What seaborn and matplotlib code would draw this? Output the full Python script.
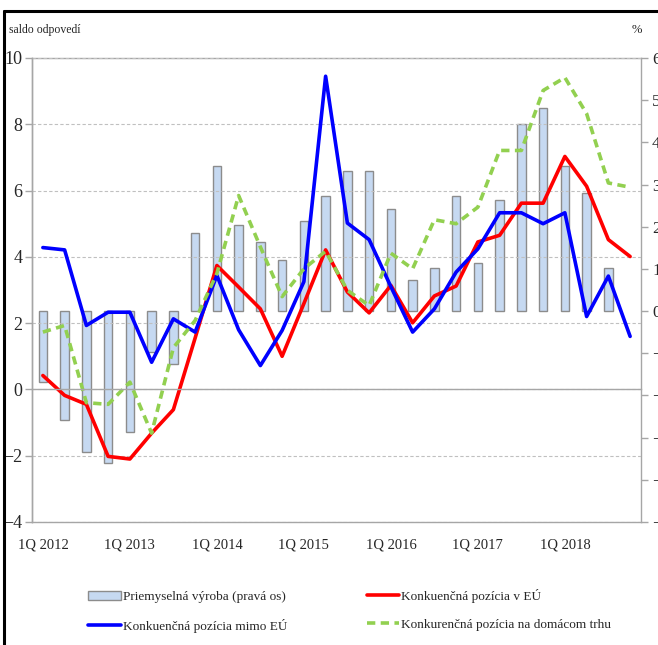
import numpy as np
import pandas as pd
import matplotlib
matplotlib.use("Agg")
import matplotlib.pyplot as plt
from matplotlib.patches import Patch
from matplotlib.lines import Line2D
import seaborn as sns

# ---------------- data ----------------
quarter_idx = list(range(28))  # 1Q 2012 ... 4Q 2018
tick_pos = [0, 4, 8, 12, 16, 20, 24]
tick_labels = ["1Q 2012", "1Q 2013", "1Q 2014", "1Q 2015", "1Q 2016", "1Q 2017", "1Q 2018"]

# Priemyselná výroba (right axis, %)
industry = [-1.68, -2.58, -3.34, -3.6, -2.86, -0.96, -1.26, 1.84, 3.44, 2.04,
            1.63, 1.22, 2.13, 2.73, 3.32, 3.32, 2.43, 0.73, 1.02, 2.73,
            1.13, 2.63, 4.43, 4.82, 3.44, 2.81, 1.02, np.nan]
# Konkurenčná pozícia v EÚ (left axis)
pos_eu = [0.42, -0.18, -0.45, -2.02, -2.1, -1.32, -0.61, 1.55, 3.74, 3.09,
          2.43, 1.0, 2.59, 4.21, 2.94, 2.31, 3.14, 2.01, 2.82, 3.12,
          4.45, 4.65, 5.62, 5.62, 7.03, 6.13, 4.52, 4.01]
# Konkurenčná pozícia mimo EÚ (left axis)
pos_non_eu = [4.28, 4.21, 1.93, 2.33, 2.33, 0.82, 2.13, 1.73, 3.44, 1.80,
              0.72, 1.78, 3.25, 9.45, 5.02, 4.52, 3.1, 1.73, 2.43, 3.54,
              4.24, 5.33, 5.33, 5.0, 5.33, 2.2, 3.42, 1.6]
# Konkurenčná pozícia na domácom trhu (left axis)
pos_domestic = [1.73, 1.93, -0.40, -0.45, 0.22, -1.32, 1.26, 2.08, 3.5, 5.85,
                4.3, 2.8, 3.64, 4.17, 2.99, 2.53, 4.11, 3.64, 5.12, 5.0,
                5.5, 7.21, 7.21, 9.02, 9.41, 8.32, 6.23, 6.1]

labels = ["Priemyselná výroba (pravá os)", "Konkuenčná pozícia mimo EÚ",
          "Konkuenčná pozícia v EÚ", "Konkurenčná pozícia na domácom trhu"]

# ---------------- style ----------------
sns.set_style("white")
plt.rcParams["font.family"] = ["Liberation Serif", "DejaVu Serif"]

W, H = 658, 645
fig = plt.figure(figsize=(W / 100, H / 100), dpi=100)
L, R, T, B = 32, 641, 58, 522
ax = fig.add_axes([L / W, 1 - B / H, (R - L) / W, (B - T) / H])
ax2 = ax.twinx()

grey = "#A6A6A6"

df_bar = pd.DataFrame({"q": quarter_idx, "v": industry}).dropna()
sns.barplot(data=df_bar, x="q", y="v", ax=ax2, native_scale=True, width=0.4,
            color="#C6D9F1", edgecolor="#8C8C8C", linewidth=1.0, saturation=1)
ax2.set_ylim(-5, 6)
ax2.set_yticks(range(-5, 7))
ax2.set_ylabel("")
ax2.set_xlabel("")

sns.lineplot(x=quarter_idx, y=pos_eu, ax=ax, color="#FF0000", linewidth=2.6)
sns.lineplot(x=quarter_idx, y=pos_non_eu, ax=ax, color="#0000FF", linewidth=2.6)
sns.lineplot(x=quarter_idx, y=pos_domestic, ax=ax, color="#92D050", linewidth=2.6,
             dashes=False, linestyle=(0, (2.3, 1.5)))

ax.set_zorder(ax2.get_zorder() + 1)
ax.patch.set_visible(False)

ax.set_ylim(-4, 10)
ax.set_yticks(range(-4, 11, 2))
ax.set_xlim(-0.5, 27.5)
ax2.set_xlim(-0.5, 27.5)

ax.grid(axis="y", color="#C0C0C0", linestyle=(0, (3, 2)), linewidth=0.8)
ax.grid(axis="x", visible=False)

# spines
for s in ["top", "right"]:
    ax.spines[s].set_visible(False)
ax.spines["bottom"].set_position(("data", 0))
ax.spines["bottom"].set_color(grey)
ax.spines["left"].set_color(grey)
for s in ["top", "bottom", "right", "left"]:
    ax2.spines[s].set_color(grey)
    ax2.spines[s].set_linewidth(1.0)
ax.spines["bottom"].set_linewidth(1.0)
ax.spines["left"].set_linewidth(1.0)

ax.set_xticks(tick_pos)
ax.set_xticklabels(tick_labels)
ax.set_xticks(np.arange(0.5, 27.5, 1), minor=True)
ax.tick_params(axis="x", which="major", length=0, pad=107, labelsize=10.5)
ax.tick_params(axis="x", which="minor", length=5, width=1, color=grey, direction="out")
ax.tick_params(axis="y", length=5, width=1, color=grey, direction="out", labelsize=13, pad=2)
ax2.tick_params(axis="y", length=5, width=1, color=grey, direction="out", labelsize=12.5, pad=3)

# header texts
fig.text(9 / W, 1 - 30 / H, "saldo odpovedí", fontsize=8.5, va="center", ha="left")
fig.text(632 / W, 1 - 30 / H, "%", fontsize=9, va="center", ha="left")

# frame of the box
fig.add_artist(Line2D([4 / W, 4 / W], [0, 1 - 11 / H], color="black", lw=2.2,
                      transform=fig.transFigure))
fig.add_artist(Line2D([4 / W, 1], [1 - 11 / H, 1 - 11 / H], color="black", lw=2.2,
                      transform=fig.transFigure))

# legend
handles = [Patch(facecolor="#C6D9F1", edgecolor="#8C8C8C", linewidth=1.0),
           Line2D([], [], color="#0000FF", lw=2.6),
           Line2D([], [], color="#FF0000", lw=2.6),
           Line2D([], [], color="#92D050", lw=2.6, linestyle=(0, (2.3, 1.5)))]
fig.legend(handles, labels, ncol=2, loc="upper left",
           bbox_to_anchor=(88 / W, 1 - 589 / H), frameon=False, fontsize=9.5,
           handlelength=2.5, handletextpad=0.15, columnspacing=6.0,
           labelspacing=1.2, borderaxespad=0, borderpad=0)

fig.savefig("out.png", dpi=100)
